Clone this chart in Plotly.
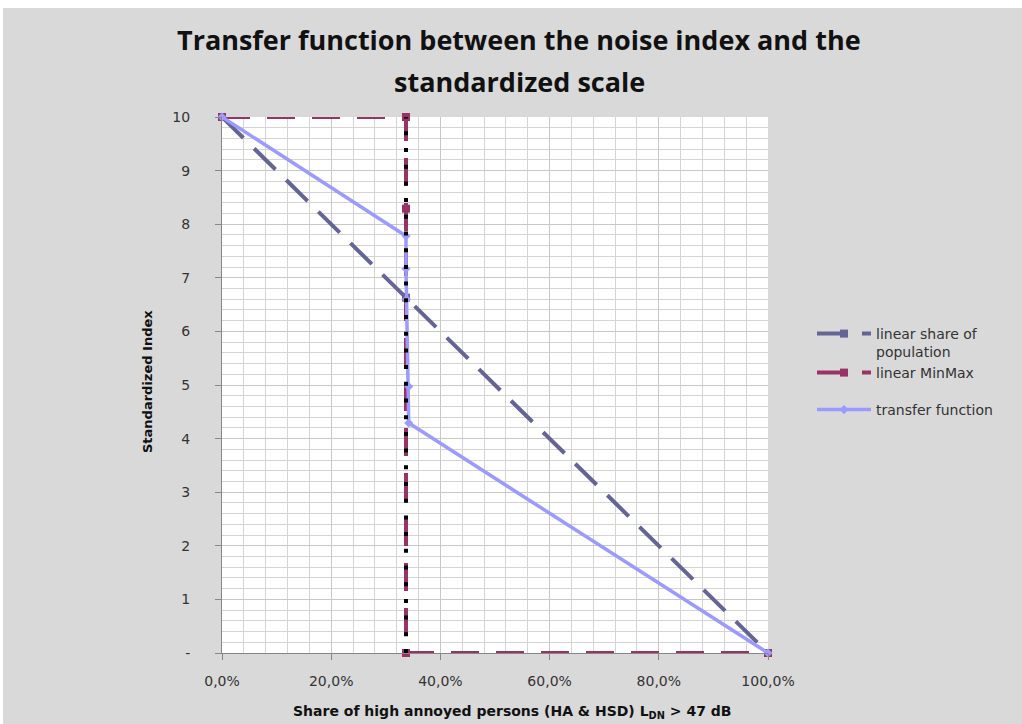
import plotly.graph_objects as go

# Threshold share separating the two linear segments of the transfer function
threshold = 0.337

# Series: share of highly annoyed persons (x) vs standardized index (y)
share_x = [0.0, 0.337, 1.0]
share_y = [10.0, 6.63, 0.0]

minmax_x = [0.0, 0.337, 0.337, 0.337, 1.0]
minmax_y = [10.0, 10.0, 8.29, 0.0, 0.0]

transfer_x = [0.0, 0.337, 0.337, 0.338, 0.342, 0.342, 1.0]
transfer_y = [10.0, 7.78, 7.17, 6.6, 4.97, 4.29, 0.0]

marker_line_x = [threshold, threshold]
marker_line_y = [0.0, 10.0]

y_tickvals = [0, 1, 2, 3, 4, 5, 6, 7, 8, 9, 10]
y_ticktext = ["-", "1", "2", "3", "4", "5", "6", "7", "8", "9", "10"]
x_tickvals = [0.0, 0.2, 0.4, 0.6, 0.8, 1.0]

SLATE = "#646496"
MAROON = "#993366"
PERIWINKLE = "#9b9bff"
GRID = "#c8c8c8"
GRID_MINOR = "#d4d4d4"
AXIS = "#868686"
BG = "#d9d9d9"
TEXT = "#333333"

L, R, T, B = 222, 254, 117, 71
W, H = 1022, 724
pw, ph = W - L - R, H - T - B


def px_x(px):
    return (px - L) / pw


def px_y(py):
    return (H - B - py) / ph


fig = go.Figure()

fig.add_trace(go.Scatter(
    x=share_x, y=share_y, mode="lines+markers",
    name="linear share of<br>population", legend="legend",
    line=dict(color=SLATE, width=4, dash="30px,15px"),
    marker=dict(symbol="square", size=8, color=SLATE),
    cliponaxis=False,
))
fig.add_trace(go.Scatter(
    x=minmax_x, y=minmax_y, mode="lines+markers",
    name="linear MinMax", legend="legend2",
    line=dict(color=MAROON, width=4, dash="28px,17px"),
    marker=dict(symbol="square", size=8, color=MAROON),
    cliponaxis=False,
))
fig.add_trace(go.Scatter(
    x=transfer_x, y=transfer_y, mode="lines+markers",
    name="transfer function", legend="legend3",
    line=dict(color=PERIWINKLE, width=3.5),
    marker=dict(symbol="diamond", size=7, color=PERIWINKLE),
    cliponaxis=False,
))
fig.add_trace(go.Scatter(
    x=marker_line_x, y=marker_line_y, mode="lines",
    showlegend=False, hoverinfo="skip",
    line=dict(color="#000000", width=4, dash="4px,12.7px"),
    cliponaxis=False,
))


def legend_box(top_px):
    return dict(
        x=px_x(812), y=px_y(top_px), xanchor="left", yanchor="top",
        bgcolor="rgba(0,0,0,0)", borderwidth=0,
        font=dict(family="DejaVu Sans", size=14, color=TEXT),
        itemwidth=54, valign="top",
    )


fig.update_layout(
    width=W, height=H,
    margin=dict(l=L, r=R, t=T, b=B),
    paper_bgcolor=BG,
    plot_bgcolor="#ffffff",
    separators=", ",
    showlegend=True,
    legend=legend_box(318),
    legend2=legend_box(357),
    legend3=legend_box(394),
    xaxis=dict(
        range=[0, 1], tickvals=x_tickvals, tickformat=".1%",
        showgrid=True, gridcolor=GRID, gridwidth=1,
        minor=dict(dtick=0.04, showgrid=True, gridcolor=GRID_MINOR, gridwidth=1),
        showline=True, linecolor=AXIS, linewidth=1,
        ticks="outside", ticklen=6, tickcolor=AXIS,
        tickfont=dict(family="DejaVu Sans", size=14, color=TEXT),
        ticklabelstandoff=9, zeroline=False,
    ),
    yaxis=dict(
        range=[0, 10], tickvals=y_tickvals, ticktext=y_ticktext,
        showgrid=True, gridcolor=GRID, gridwidth=1,
        minor=dict(dtick=0.2, showgrid=True, gridcolor=GRID_MINOR, gridwidth=1),
        showline=True, linecolor=AXIS, linewidth=1,
        ticks="outside", ticklen=6, tickcolor=AXIS,
        tickfont=dict(family="DejaVu Sans", size=14, color=TEXT),
        ticklabelstandoff=22, zeroline=False,
    ),
    annotations=[
        dict(
            text="<b>Transfer function between the noise index and the</b>",
            x=px_x(519), y=px_y(39), xref="paper", yref="paper",
            xanchor="center", yanchor="middle", showarrow=False,
            font=dict(family="Open Sans", size=27, color="#111111"),
        ),
        dict(
            text="<b>standardized scale</b>",
            x=px_x(519), y=px_y(82), xref="paper", yref="paper",
            xanchor="center", yanchor="middle", showarrow=False,
            font=dict(family="Open Sans", size=27, color="#111111"),
        ),
        dict(
            text="<b>Share of high annoyed persons (HA &amp; HSD) L<sub>DN</sub> &gt; 47 dB</b>",
            x=px_x(512), y=px_y(712), xref="paper", yref="paper",
            xanchor="center", yanchor="middle", showarrow=False,
            font=dict(family="DejaVu Sans", size=14, color="#111111"),
        ),
        dict(
            text="<b>Standardized Index</b>",
            x=px_x(147), y=px_y(382), xref="paper", yref="paper",
            xanchor="center", yanchor="middle", showarrow=False, textangle=-90,
            font=dict(family="DejaVu Sans", size=13, color="#111111"),
        ),
    ],
    shapes=[
        dict(type="rect", xref="paper", yref="paper",
             x0=px_x(-5), x1=px_x(W + 5), y0=px_y(8), y1=px_y(-5),
             fillcolor="#ffffff", line=dict(width=0), layer="above"),
        dict(type="rect", xref="paper", yref="paper",
             x0=px_x(-5), x1=px_x(3), y0=px_y(H + 5), y1=px_y(-5),
             fillcolor="#ffffff", line=dict(width=0), layer="above"),
    ],
)

fig.write_html("out.html")
